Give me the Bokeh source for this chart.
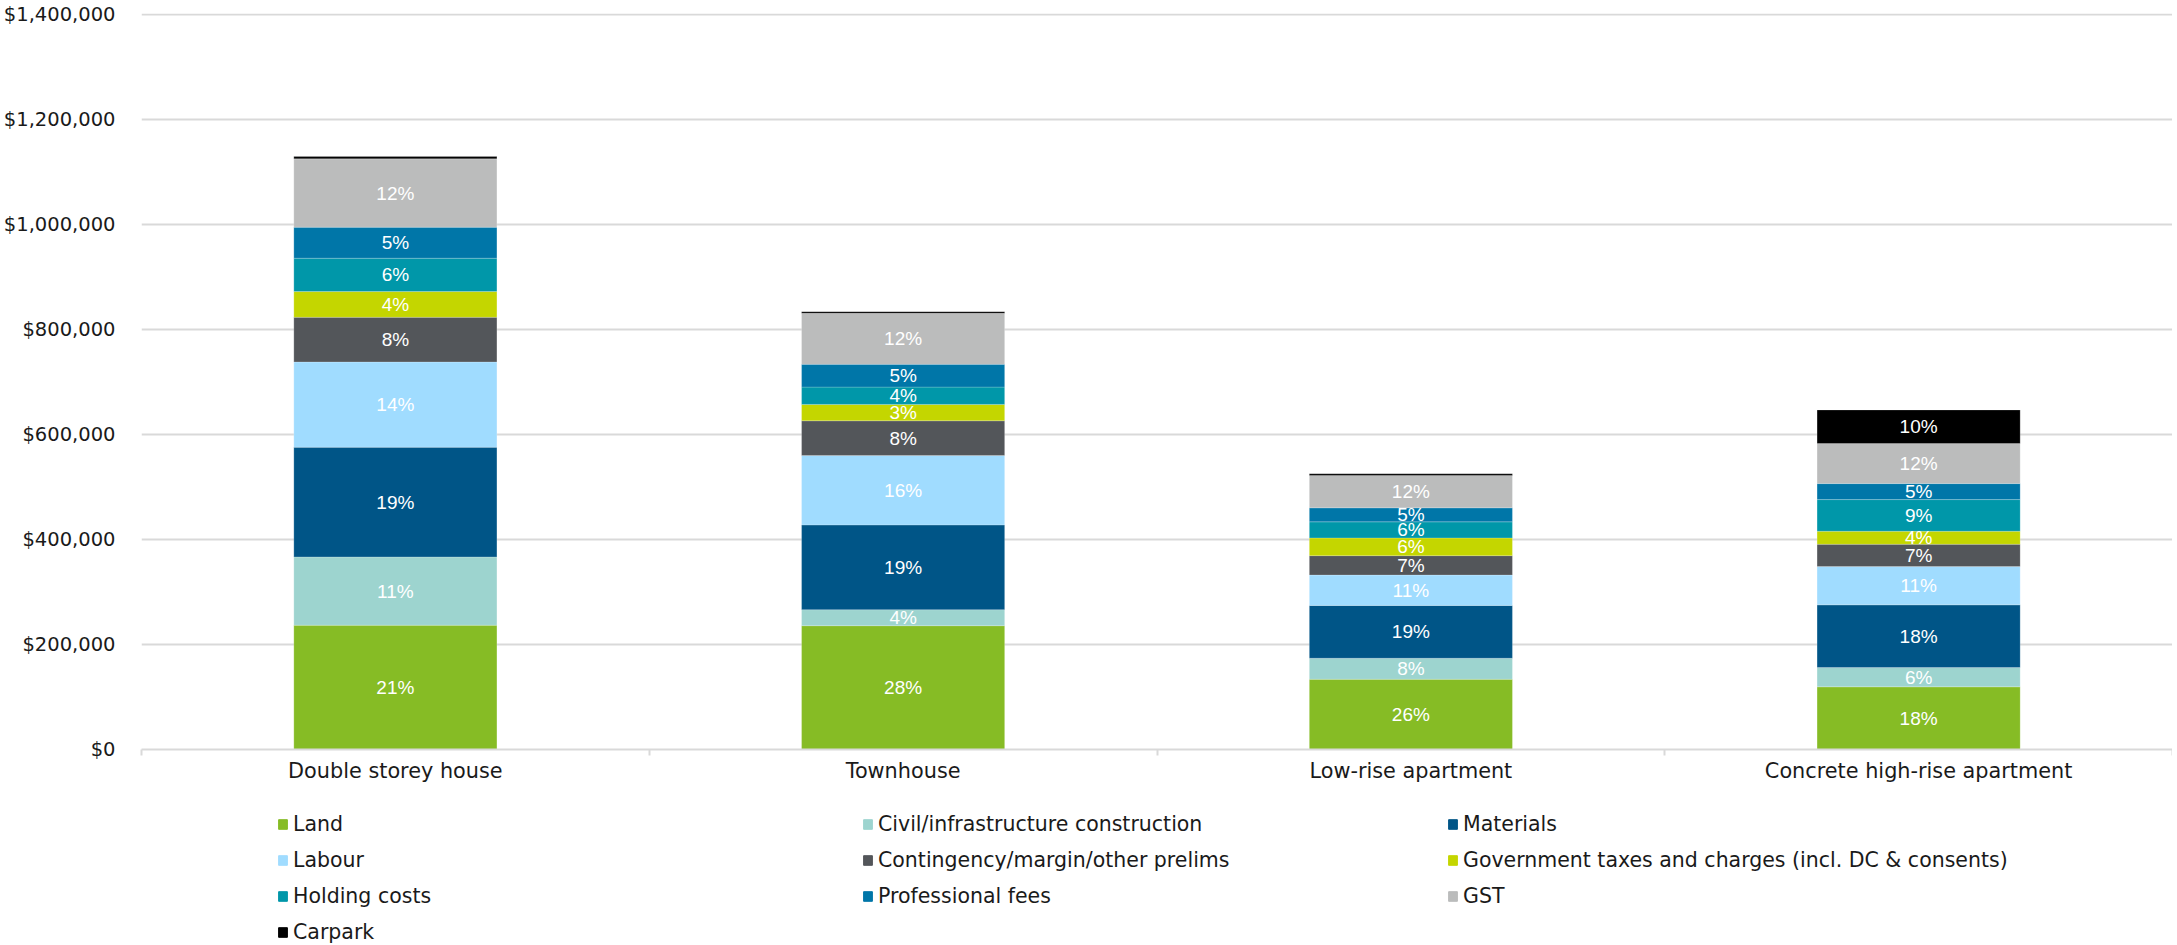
from bokeh.plotting import figure
from bokeh.layouts import column
from bokeh.models import (ColumnDataSource, Range1d, FixedTicker, NumeralTickFormatter,
                          Legend, LegendItem)
from bokeh.core.properties import value
from bokeh.embed import file_html
from bokeh.resources import INLINE

categories = ["Double storey house", "Townhouse", "Low-rise apartment", "Concrete high-rise apartment"]

series_names = ["Land", "Civil/infrastructure construction", "Materials", "Labour",
                "Contingency/margin/other prelims", "Government taxes and charges (incl. DC & consents)",
                "Holding costs", "Professional fees", "GST", "Carpark"]

land = [236800, 235900, 133800, 119400]
civil = [130200, 30600, 40100, 36800]
materials = [209000, 161500, 100600, 119400]
labour = [162500, 132300, 58000, 73000]
contingency = [85100, 66100, 36900, 42500]
government = [49000, 31200, 33800, 24800]
holding = [63600, 33000, 30600, 60300]
professional = [59000, 43300, 26700, 30500]
gst = [130300, 97300, 61800, 76200]
carpark = [4300, 3100, 3200, 64100]

land_pct = ["21%", "28%", "26%", "18%"]
civil_pct = ["11%", "4%", "8%", "6%"]
materials_pct = ["19%", "19%", "19%", "18%"]
labour_pct = ["14%", "16%", "11%", "11%"]
contingency_pct = ["8%", "8%", "7%", "7%"]
government_pct = ["4%", "3%", "6%", "4%"]
holding_pct = ["6%", "4%", "6%", "9%"]
professional_pct = ["5%", "5%", "5%", "5%"]
gst_pct = ["12%", "12%", "12%", "12%"]
carpark_pct = ["", "", "", "10%"]

colors = ["#86BC25", "#9DD4CF", "#005587", "#A0DCFF", "#53565A",
          "#C4D600", "#0097A9", "#0076A8", "#BBBCBC", "#000000"]

y_ticks = [0, 200000, 400000, 600000, 800000, 1000000, 1200000, 1400000]

series = [land, civil, materials, labour, contingency, government, holding, professional, gst, carpark]
pcts = [land_pct, civil_pct, materials_pct, labour_pct, contingency_pct, government_pct,
        holding_pct, professional_pct, gst_pct, carpark_pct]
keys = ["s%d" % i for i in range(len(series))]

xs = [i + 0.5 for i in range(len(categories))]
data = {"x": xs}
for k, s in zip(keys, series):
    data[k] = s
source = ColumnDataSource(data)

W = 2172
H1 = 798
p = figure(width=W, height=H1, output_backend="svg", toolbar_location=None,
           x_range=Range1d(0, len(categories)), y_range=Range1d(0, 1402500),
           min_border_left=132, min_border_right=0, min_border_top=13, min_border_bottom=49)
p.outline_line_color = None
p.background_fill_color = "white"
p.border_fill_color = "white"

renderers = p.vbar_stack(keys, x="x", width=0.4, source=source, color=colors,
                         line_color="white", line_width=0.5, line_alpha=0.4)

# labels at segment centres
lx, ly, lt = [], [], []
bottoms = [0] * len(categories)
for s, pc in zip(series, pcts):
    for i in range(len(categories)):
        if pc[i]:
            lx.append(xs[i])
            ly.append(bottoms[i] + s[i] / 2.0)
            lt.append(pc[i])
        bottoms[i] += s[i]
lsrc = ColumnDataSource(dict(x=lx, y=ly, t=lt))
p.text(x="x", y="y", text="t", source=lsrc, text_color="white", text_align="center",
       text_baseline="middle", text_font=value("Liberation Sans"), text_font_size="19px")

# axes
p.yaxis.ticker = FixedTicker(ticks=y_ticks)
p.yaxis.formatter = NumeralTickFormatter(format="$0,0")
p.yaxis.axis_line_color = None
p.yaxis.major_tick_line_color = None
p.yaxis.minor_tick_line_color = None
p.yaxis.major_label_text_font = "DejaVu Sans"
p.yaxis.major_label_text_font_size = "19.5px"
p.yaxis.major_label_text_color = "#1a1a1a"
p.yaxis.major_label_standoff = 20

p.xaxis.ticker = FixedTicker(ticks=xs, minor_ticks=list(range(len(categories) + 1)))
p.xaxis.major_label_overrides = {x: c for x, c in zip(xs, categories)}
p.xaxis.axis_line_color = "#d9d9d9"
p.xaxis.axis_line_width = 2
p.xaxis.major_tick_line_color = None
p.xaxis.minor_tick_line_color = "#d9d9d9"
p.xaxis.minor_tick_line_width = 2
p.xaxis.minor_tick_in = 0
p.xaxis.minor_tick_out = 6
p.xaxis.major_label_text_font = "DejaVu Sans"
p.xaxis.major_label_text_font_size = "20.8px"
p.xaxis.major_label_text_color = "#1a1a1a"
p.xaxis.major_label_standoff = 3

p.xgrid.grid_line_color = None
p.ygrid.grid_line_color = "#d9d9d9"
p.ygrid.grid_line_width = 2

# legend panel (separate figure below the chart); its bars lie outside its visible range
H2 = 146
p2 = figure(width=W, height=H2, output_backend="svg", toolbar_location=None,
            x_range=Range1d(0, len(categories)), y_range=Range1d(2000000, 3000000),
            x_axis_type=None, y_axis_type=None, min_border=0)
p2.outline_line_color = None
p2.grid.visible = False
leg_renderers = p2.vbar_stack(keys, x="x", width=0.4, source=source, color=colors)

items = [LegendItem(label=n, renderers=[r]) for n, r in zip(series_names, leg_renderers)]
legend = Legend(items=items, orientation="horizontal", ncols=3, location=(136, 0),
                glyph_width=11, glyph_height=12, label_standoff=5, label_width=557,
                label_height=24, spacing=12, padding=0, margin=0,
                border_line_color=None, background_fill_alpha=0,
                label_text_font="DejaVu Sans", label_text_font_size="20.5px",
                label_text_color="#1a1a1a")
p2.add_layout(legend, "center")

layout = column(p, p2, spacing=0)
open("out.html", "w").write(file_html(layout, INLINE))
